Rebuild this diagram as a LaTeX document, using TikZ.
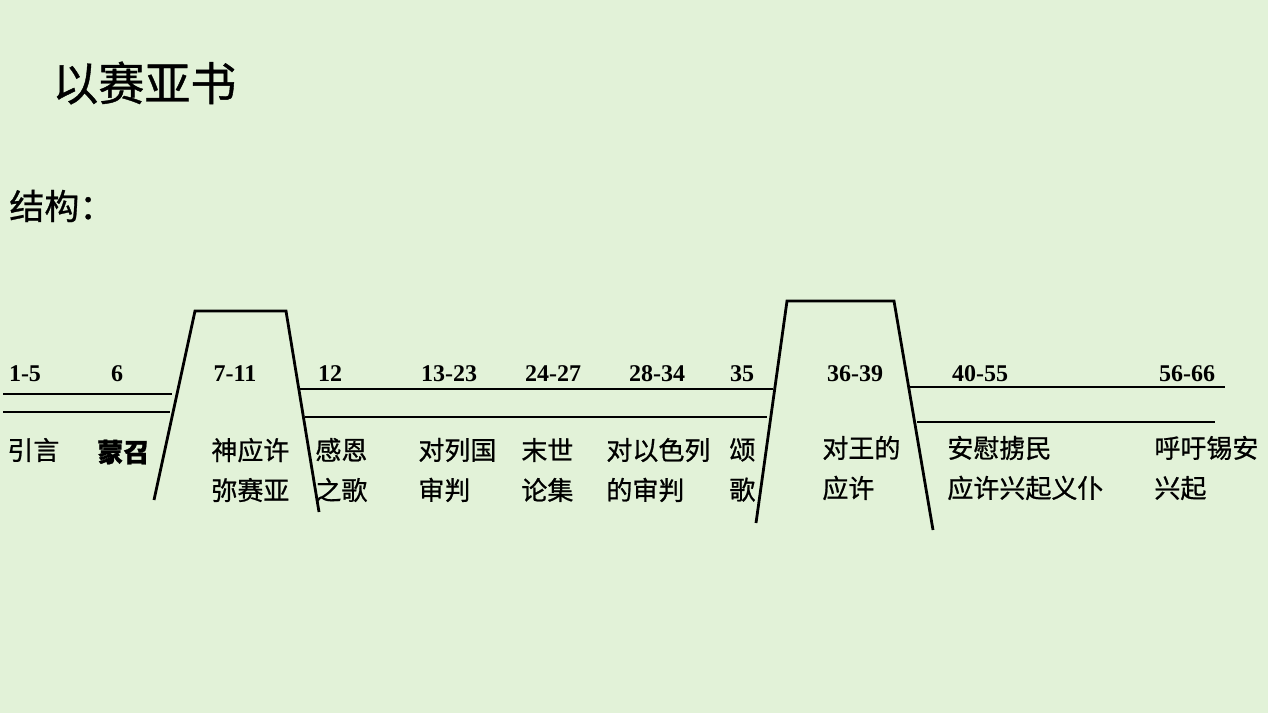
\documentclass[tikz,border=0pt]{standalone}
\usepackage{fontspec}
\setmainfont{Liberation Serif}
\newfontfamily\cjk{Noto Sans CJK SC}[FakeBold=0.8]
\usetikzlibrary{positioning}
\definecolor{bggreen}{HTML}{E2F2D8}

\begin{document}
\begin{tikzpicture}[x=1pt,y=-1pt,line width=2.8pt,line cap=butt]
\tikzset{numstyle/.style={font=\bfseries\fontsize{24}{26}\selectfont,inner sep=0pt,anchor=base}}
\tikzset{labstyle/.style={font=\cjk\fontsize{26}{40}\selectfont,inner sep=0pt,anchor=west,align=left}}
\fill[bggreen] (0,0) rectangle (1268,713);
\useasboundingbox (0,0) rectangle (1268,713);
  \node[inner sep=0pt,anchor=west,font=\cjk\fontsize{46}{48}\selectfont] (title) at (51,83)  {以赛亚书};
  \node[inner sep=0pt,anchor=west,font=\cjk\fontsize{35}{36}\selectfont] (sub)   at (8,206)  {结构：};
% chapter numbers
  \node[numstyle] (n1)  at (25,381)   {1-5};
  \node[numstyle] (n2)  at (117,381)  {6};
  \node[numstyle] (n3)  at (235,381)  {7-11};
  \node[numstyle] (n4)  at (330,381)  {12};
  \node[numstyle] (n5)  at (449,381)  {13-23};
  \node[numstyle] (n6)  at (553,381)  {24-27};
  \node[numstyle] (n7)  at (657,381)  {28-34};
  \node[numstyle] (n8)  at (742,381)  {35};
  \node[numstyle] (n9)  at (855,381)  {36-39};
  \node[numstyle] (n10) at (980,381)  {40-55};
  \node[numstyle] (n11) at (1187,381) {56-66};
% section titles
  \node[labstyle] (l1)  at (6,450)    {引言};
  \node[labstyle] (l2)  at (96,452)   {\textbf{蒙召}};
  \node[labstyle] (l3)  at (210,470)  {神应许\\弥赛亚};
  \node[labstyle] (l4)  at (314,470)  {感恩\\之歌};
  \node[labstyle] (l5)  at (417,470)  {对列国\\审判};
  \node[labstyle] (l6)  at (520,470)  {末世\\论集};
  \node[labstyle] (l7)  at (605,470)  {对以色列\\的审判};
  \node[labstyle] (l8)  at (728,470)  {颂\\歌};
  \node[labstyle] (l9)  at (821,468)  {对王的\\应许};
  \node[labstyle] (l10) at (946,468)  {安慰掳民\\应许兴起义仆};
  \node[labstyle] (l11) at (1153,468) {呼吁锡安\\兴起};
% band and the two raised blocks
  \coordinate (a1) at (3,394);    \coordinate (a2) at (172,394);
  \coordinate (b1) at (3,412);    \coordinate (b2) at (170,412);
  \coordinate (p1) at (154,500);  \coordinate (p2) at (195,311);
  \coordinate (p3) at (286,311);  \coordinate (p4) at (319,512);
  \coordinate (c1) at (300,389);  \coordinate (c2) at (773,389);
  \coordinate (d1) at (305,417);  \coordinate (d2) at (767,417);
  \coordinate (q1) at (756,523);  \coordinate (q2) at (787,301);
  \coordinate (q3) at (894,301);  \coordinate (q4) at (933,530);
  \coordinate (e1) at (910,387);  \coordinate (e2) at (1225,387);
  \coordinate (f1) at (917,422);  \coordinate (f2) at (1215,422);
  \draw (a1) -- (a2);
  \draw (b1) -- (b2);
  \draw (p1) -- (p2) -- (p3) -- (p4);
  \draw (c1) -- (c2);
  \draw (d1) -- (d2);
  \draw (q1) -- (q2) -- (q3) -- (q4);
  \draw (e1) -- (e2);
  \draw (f1) -- (f2);
\end{tikzpicture}
\end{document}
